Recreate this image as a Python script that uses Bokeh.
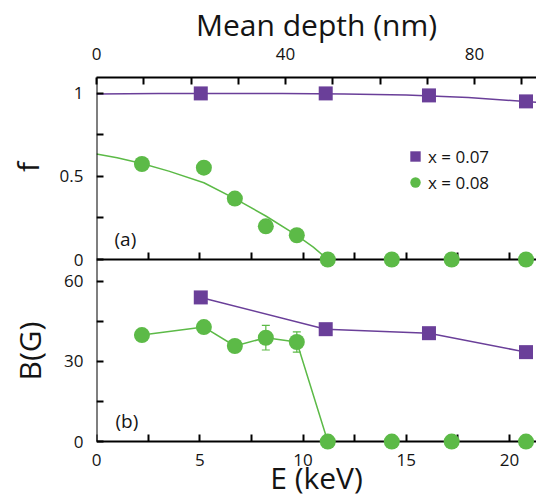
import math
from bokeh.plotting import figure
from bokeh.layouts import row
from bokeh.models import (Range1d, LinearAxis, FixedTicker, Legend, LegendItem,
                          ColumnDataSource, Whisker, TeeHead, Label)
from bokeh.embed import file_html
from bokeh.resources import INLINE

# ---------------- data ----------------
# x = 0.07 (squares)
E_x07 = [5.05, 11.1, 16.1, 20.8]
f_x07 = [1.0, 1.0, 0.988, 0.952]
B_x07 = [54.0, 42.1, 40.6, 33.5]

# x = 0.08 (circles)
E_x08 = [2.2, 5.2, 6.7, 8.2, 9.7, 11.2, 14.3, 17.2, 20.8]
f_x08 = [0.575, 0.553, 0.367, 0.200, 0.146, 0.0, 0.0, 0.0, 0.0]
B_x08 = [39.9, 42.9, 35.8, 38.9, 37.3, 0.0, 0.0, 0.0, 0.0]

# error bars on B for x = 0.08
E_err = [8.2, 9.7]
B_err = [38.9, 37.3]
B_err_half = [4.6, 3.8]

# fitted curves in panel (a)
fit_E_x07 = [0.0, 3.0, 6.0, 9.0, 12.0, 15.0, 18.0, 21.4]
fit_f_x07 = [0.996, 0.999, 1.0, 1.0, 0.997, 0.990, 0.975, 0.946]
fit_E_x08 = [0.0, 1.0, 2.2, 3.5, 5.2, 6.7, 8.2, 9.7, 10.5, 11.2]
fit_f_x08 = [0.635, 0.613, 0.578, 0.532, 0.462, 0.367, 0.262, 0.146, 0.075, 0.0]

# ticks
E_major = [0, 5, 10, 15, 20]
E_minor = [2.5, 7.5, 12.5, 17.5]
depth_major = [0, 40, 80]
depth_minor = [10, 20, 30, 50, 60, 70, 90]
f_major = [0, 0.5, 1]
f_minor = [0.25, 0.75]
B_major = [0, 30, 60]
B_minor = [15, 45]

labels_legend = ["x = 0.07", "x = 0.08"]
ylabels = ["f", "B(G)"]

# ---------------- layout constants (page pixels) ----------------
PURPLE = "#6A3F99"
GREEN = "#5CBA47"
TXT = "#141414"
FONT = "Open Sans"

W, H = 536, 500
LW = 50                          # width of the strip holding the y titles
frame_left, frame_right = 96, 536
frame_top, frame_bot = 77, 451
f0_y, f_px = 260.0, 167.0        # f = 0 row, px per unit f
B0_y = 443.0                     # B = 0 row
B_top = 68.2                     # B value at the panel boundary
B_px = (B0_y - f0_y) / B_top
E_px = 20.65                     # px per keV
depth_per_E = 4.37

E_end = (frame_right - frame_left) / E_px
depth_end = E_end * depth_per_E
f_start, f_end = -(frame_bot - f0_y) / f_px, (f0_y - frame_top) / f_px
B_start, B_end = -(frame_bot - B0_y) / B_px, (B0_y - frame_top) / B_px


def E_at(px):
    return (px - frame_left) / E_px


def f_at(py):
    return (f0_y - py) / f_px


def B_at(py):
    return (B0_y - py) / B_px


# ---------------- strip with the y-axis titles ----------------
# (its frame is aligned with the main frame by the row layout)
pl = figure(width=LW, height=H, output_backend="svg", toolbar_location=None,
            x_range=Range1d(0, LW), y_range=Range1d(frame_bot, frame_top),
            x_axis_location=None, y_axis_location=None,
            min_border_left=0, min_border_right=0, min_border_top=frame_top,
            min_border_bottom=H - frame_bot)
pl.xgrid.visible = False
pl.ygrid.visible = False
pl.outline_line_color = None
pl.background_fill_color = "white"
pl.border_fill_color = "white"
pl.add_layout(Label(x=27, y=167, text=ylabels[0], angle=math.pi / 2,
                    text_font=FONT, text_font_size="30px", text_color=TXT,
                    text_align="center", text_baseline="middle"))
pl.add_layout(Label(x=29, y=352, text=ylabels[1], angle=math.pi / 2,
                    text_font=FONT, text_font_size="30px", text_color=TXT,
                    text_align="center", text_baseline="middle"))

# ---------------- main plot ----------------
p = figure(width=W - LW, height=H, output_backend="svg", toolbar_location=None,
           x_range=Range1d(0, E_end), y_range=Range1d(B_start, B_end),
           x_axis_location=None, y_axis_location=None,
           min_border_left=frame_left - LW, min_border_right=W - frame_right,
           min_border_top=frame_top, min_border_bottom=H - frame_bot)
p.extra_y_ranges = {"f": Range1d(f_start, f_end)}
p.extra_x_ranges = {"depth": Range1d(0, depth_end)}
p.xgrid.visible = False
p.ygrid.visible = False
p.outline_line_color = None
p.background_fill_color = "white"
p.border_fill_color = "white"


def style(ax):
    ax.axis_line_width = 2
    ax.axis_line_color = "black"
    ax.major_tick_in = 7
    ax.major_tick_out = 0
    ax.minor_tick_in = 7
    ax.minor_tick_out = 0
    ax.major_tick_line_width = 2
    ax.minor_tick_line_width = 2
    ax.major_tick_line_color = "black"
    ax.minor_tick_line_color = "black"
    ax.major_label_text_font = FONT
    ax.major_label_text_font_size = "17px"
    ax.major_label_text_color = TXT
    ax.axis_label_text_font = FONT
    ax.axis_label_text_font_size = "30px"
    ax.axis_label_text_font_style = "normal"
    ax.axis_label_text_color = TXT


def labels_only(ax):
    ax.axis_line_color = None
    ax.major_tick_in = 0
    ax.major_tick_out = 0
    ax.minor_tick_in = 0
    ax.minor_tick_out = 0
    ax.major_tick_line_color = None
    ax.minor_tick_line_color = None


# top axis: mean depth (rule, ticks, labels, title)
ax_top = LinearAxis(x_range_name="depth",
                    ticker=FixedTicker(ticks=depth_major, minor_ticks=depth_minor),
                    axis_label="Mean depth (nm)")
style(ax_top)
ax_top.major_label_standoff = 18
ax_top.axis_label_standoff = 0
p.add_layout(ax_top, "above")

# bottom: tick labels and title of E
ax_bot_lab = LinearAxis(ticker=FixedTicker(ticks=E_major, minor_ticks=[]),
                        axis_label="E (keV)")
style(ax_bot_lab)
labels_only(ax_bot_lab)
ax_bot_lab.major_label_standoff = 4
ax_bot_lab.axis_label_standoff = -12
p.add_layout(ax_bot_lab, "below")

# rule + ticks at B = 0
ax_bot = LinearAxis(fixed_location=0,
                    ticker=FixedTicker(ticks=[], minor_ticks=E_major + E_minor))
style(ax_bot)
p.add_layout(ax_bot, "below")

# rule + ticks at f = 0 (bottom of panel a)
ax_mid = LinearAxis(y_range_name="f", fixed_location=0,
                    ticker=FixedTicker(ticks=[], minor_ticks=E_major[1:] + E_minor))
style(ax_mid)
p.add_layout(ax_mid, "below")

# left rules + ticks of the two panels
ax_f = LinearAxis(y_range_name="f", fixed_location=0, bounds=(0, f_end),
                  ticker=FixedTicker(ticks=[], minor_ticks=f_major + f_minor))
style(ax_f)
p.add_layout(ax_f, "left")
ax_B = LinearAxis(fixed_location=0, bounds=(0, B_top),
                  ticker=FixedTicker(ticks=[], minor_ticks=B_major + B_minor))
style(ax_B)
p.add_layout(ax_B, "left")

# left tick labels of both panels (f values shown at their place in panel a)
f_as_B = [B_at(f0_y - v * f_px) for v in f_major]
left_ticks = B_major + f_as_B
overrides = {b: str(v) for b, v in zip(B_major, B_major)}
overrides.update({b: ("%g" % v) for b, v in zip(f_as_B, f_major)})
ax_left_lab = LinearAxis(ticker=FixedTicker(ticks=left_ticks, minor_ticks=[]),
                         major_label_overrides=overrides)
style(ax_left_lab)
labels_only(ax_left_lab)
ax_left_lab.major_label_standoff = 13
p.add_layout(ax_left_lab, "left")

# ---------------- panel (a) ----------------
p.line(fit_E_x07, fit_f_x07, y_range_name="f", line_color=PURPLE, line_width=1.5)
p.line(fit_E_x08, fit_f_x08, y_range_name="f", line_color=GREEN, line_width=1.5)
r_sq_a = p.scatter(E_x07, f_x07, y_range_name="f", marker="square", size=14,
                   fill_color=PURPLE, line_color=None, level="overlay")
r_ci_a = p.scatter(E_x08, f_x08, y_range_name="f", marker="circle", size=16,
                   fill_color=GREEN, line_color=None, level="overlay")

# ---------------- panel (b) ----------------
p.line(E_x07, B_x07, line_color=PURPLE, line_width=1.5)
p.line(E_x08[:6], B_x08[:6], line_color=GREEN, line_width=1.5)
src_err = ColumnDataSource(dict(
    x=E_err,
    upper=[b + e for b, e in zip(B_err, B_err_half)],
    lower=[b - e for b, e in zip(B_err, B_err_half)]))
p.add_layout(Whisker(source=src_err, base="x", upper="upper", lower="lower",
                     line_color=GREEN, line_width=1.2,
                     upper_head=TeeHead(size=8, line_color=GREEN, line_width=1.2),
                     lower_head=TeeHead(size=8, line_color=GREEN, line_width=1.2)))
p.scatter(E_x07, B_x07, marker="square", size=14, fill_color=PURPLE,
          line_color=None, level="overlay")
p.scatter(E_x08, B_x08, marker="circle", size=16, fill_color=GREEN,
          line_color=None, level="overlay")

# panel labels
p.add_layout(Label(x=E_at(114), y=f_at(239), y_range_name="f", text="(a)",
                   text_font=FONT, text_font_size="19px", text_color=TXT,
                   text_baseline="middle", text_align="left"))
p.add_layout(Label(x=E_at(115), y=B_at(422), text="(b)",
                   text_font=FONT, text_font_size="19px", text_color=TXT,
                   text_baseline="middle", text_align="left"))

# legend
GL = 26
legend = Legend(items=[LegendItem(label=labels_legend[0], renderers=[r_sq_a]),
                       LegendItem(label=labels_legend[1], renderers=[r_ci_a])],
                location=(int(415.5 - GL / 2 - frame_left),
                          int(frame_bot - (157.5 - GL / 2 + 2 * GL))),
                orientation="vertical",
                glyph_width=GL, glyph_height=GL, spacing=0, label_standoff=0,
                padding=0, margin=0, border_line_color=None,
                background_fill_alpha=0, label_text_font=FONT,
                label_text_font_size="17px", label_text_color=TXT,
                label_text_baseline="middle")
p.add_layout(legend)

layout = row(pl, p)
open("out.html", "w").write(file_html(layout, INLINE))
